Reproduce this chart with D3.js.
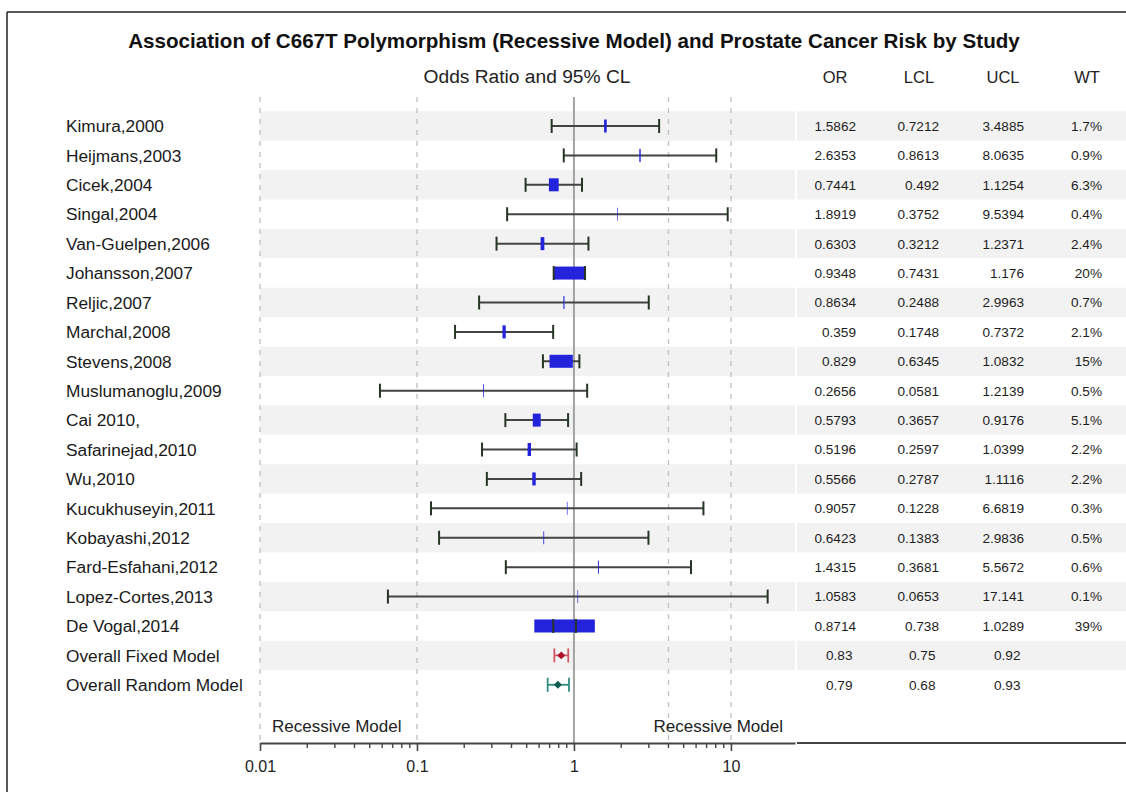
<!DOCTYPE html>
<html>
<head>
<meta charset="utf-8">
<script src="https://cdn.jsdelivr.net/npm/d3@7"></script>
<style>
  html, body { margin: 0; padding: 0; background: #fff; }
  svg { display: block; font-family: "Liberation Sans", Arial, sans-serif; }
</style>
</head>
<body>
<svg id="chart" width="1126" height="798"></svg>
<script>
// ---------- data ----------
const studies = ["Kimura,2000","Heijmans,2003","Cicek,2004","Singal,2004","Van-Guelpen,2006",
  "Johansson,2007","Reljic,2007","Marchal,2008","Stevens,2008","Muslumanoglu,2009",
  "Cai 2010,","Safarinejad,2010","Wu,2010","Kucukhuseyin,2011","Kobayashi,2012",
  "Fard-Esfahani,2012","Lopez-Cortes,2013","De Vogal,2014"];
const orVals  = [1.5862,2.6353,0.7441,1.8919,0.6303,0.9348,0.8634,0.359,0.829,0.2656,0.5793,0.5196,0.5566,0.9057,0.6423,1.4315,1.0583,0.8714];
const lclVals = [0.7212,0.8613,0.492,0.3752,0.3212,0.7431,0.2488,0.1748,0.6345,0.0581,0.3657,0.2597,0.2787,0.1228,0.1383,0.3681,0.0653,0.738];
const uclVals = [3.4885,8.0635,1.1254,9.5394,1.2371,1.176,2.9963,0.7372,1.0832,1.2139,0.9176,1.0399,1.1116,6.6819,2.9836,5.5672,17.141,1.0289];
const wtVals  = [1.7,0.9,6.3,0.4,2.4,20,0.7,2.1,15,0.5,5.1,2.2,2.2,0.3,0.5,0.6,0.1,39];

const overallLabels = ["Overall Fixed Model","Overall Random Model"];
const overallOR  = [0.83, 0.79];
const overallLCL = [0.75, 0.68];
const overallUCL = [0.92, 0.93];

const columnHeaders = ["OR","LCL","UCL","WT"];
const tickValues = [0.01, 0.1, 1, 10];
const refLines = [0.01, 0.1, 4, 10];
const title = "Association of C667T Polymorphism (Recessive Model) and Prostate Cancer Risk by Study";
const subTitle = "Odds Ratio and 95% CL";
const sideLabel = "Recessive Model";

// ---------- layout ----------
const svg = d3.select("#chart");
const allLabels = studies.concat(overallLabels);

const x = d3.scaleLog().domain([0.01, 25.6]).range([260, 795]);
const y = d3.scaleBand().domain(allLabels).range([111.3, 699.5]).padding(0);
const yc = d => y(d) + y.bandwidth() / 2;
const plotTop = 97, axisY = 743;
const tableLeft = 797, tableRight = 1126;
const colCenter = [835, 919, 1003, 1087];
const colRight  = [856, 939, 1024, 1102];
const boxScale = d3.scaleLinear().domain([0, 39]).range([0, 60.5]);

const studyRows = studies.map((s, i) => ({label: s, or: orVals[i], lcl: lclVals[i], ucl: uclVals[i], wt: wtVals[i]}));
const overallRows = overallLabels.map((s, i) => ({label: s, or: overallOR[i], lcl: overallLCL[i], ucl: overallUCL[i]}));

// frame
svg.append("line").attr("x1", 7).attr("x2", 1126).attr("y1", 12).attr("y2", 12).attr("stroke", "#222").attr("stroke-width", 1.5);
svg.append("line").attr("x1", 7).attr("x2", 7).attr("y1", 12).attr("y2", 792).attr("stroke", "#222").attr("stroke-width", 1.5);

// bands
const bandRows = allLabels.filter((d, i) => i % 2 === 0);
svg.append("g").selectAll("rect").data(bandRows).join("rect")
  .attr("x", x(0.01)).attr("width", x.range()[1] - x(0.01))
  .attr("y", d => y(d)).attr("height", y.bandwidth()).attr("fill", "#f2f2f2");
svg.append("g").selectAll("rect").data(bandRows).join("rect")
  .attr("x", tableLeft).attr("width", tableRight - tableLeft)
  .attr("y", d => y(d)).attr("height", y.bandwidth()).attr("fill", "#f2f2f2");

// reference lines
svg.append("g").selectAll("line").data(refLines).join("line")
  .attr("x1", d => x(d)).attr("x2", d => x(d)).attr("y1", plotTop).attr("y2", axisY)
  .attr("stroke", "#c4c4c4").attr("stroke-width", 1.4).attr("stroke-dasharray", "5,6");
svg.append("line").attr("x1", x(1)).attr("x2", x(1)).attr("y1", plotTop).attr("y2", axisY)
  .attr("stroke", "#a3a3a3").attr("stroke-width", 2);

// title & headers
svg.append("text").attr("x", 574).attr("y", 48).attr("text-anchor", "middle")
  .attr("font-size", 20.6).attr("font-weight", "bold").attr("fill", "#111").text(title);
svg.append("text").attr("x", 527).attr("y", 83).attr("text-anchor", "middle")
  .attr("font-size", 19.2).attr("fill", "#222").text(subTitle);
svg.append("g").selectAll("text").data(columnHeaders).join("text")
  .attr("x", (d, i) => colCenter[i]).attr("y", 83).attr("text-anchor", "middle")
  .attr("font-size", 16.5).attr("fill", "#222").text(d => d);

// row labels
svg.append("g").selectAll("text").data(allLabels).join("text")
  .attr("x", 66).attr("y", d => yc(d)).attr("dy", "0.36em")
  .attr("font-size", 17.3).attr("fill", "#1a1a1a").text(d => d);

// study error bars
const g = svg.append("g");
g.selectAll("line.ci").data(studyRows).join("line").attr("class", "ci")
  .attr("x1", d => x(d.lcl)).attr("x2", d => x(d.ucl))
  .attr("y1", d => yc(d.label)).attr("y2", d => yc(d.label))
  .attr("stroke", "#404540").attr("stroke-width", 2);
g.selectAll("rect.box").data(studyRows).join("rect").attr("class", "box")
  .attr("x", d => x(d.or) - Math.max(boxScale(d.wt), 0.6) / 2)
  .attr("width", d => Math.max(boxScale(d.wt), 0.6))
  .attr("y", d => yc(d.label) - 6.5).attr("height", 13)
  .attr("fill", "#2323dc");
const capData = studyRows.flatMap(d => [{label: d.label, v: d.lcl}, {label: d.label, v: d.ucl}]);
g.selectAll("line.cap").data(capData).join("line").attr("class", "cap")
  .attr("x1", d => x(d.v)).attr("x2", d => x(d.v))
  .attr("y1", d => yc(d.label) - 7).attr("y2", d => yc(d.label) + 7)
  .attr("stroke", "#263526").attr("stroke-width", 2);

// overall rows
const ovColors = [{line: "#d0566a", mark: "#b0102e"}, {line: "#2e8c80", mark: "#0d5a4f"}];
overallRows.forEach((d, i) => {
  const cy = yc(d.label);
  const og = svg.append("g");
  og.append("line").attr("x1", x(d.lcl)).attr("x2", x(d.ucl)).attr("y1", cy).attr("y2", cy)
    .attr("stroke", ovColors[i].line).attr("stroke-width", 1.8);
  [d.lcl, d.ucl].forEach(v => og.append("line").attr("x1", x(v)).attr("x2", x(v))
    .attr("y1", cy - 7).attr("y2", cy + 7).attr("stroke", ovColors[i].line).attr("stroke-width", 1.8));
  og.append("path").attr("d", d3.symbol(d3.symbolDiamond2, 40)())
    .attr("transform", `translate(${x(d.or)},${cy})`).attr("fill", ovColors[i].mark);
});

// table values
const tg = svg.append("g").attr("font-size", 13.6).attr("fill", "#1e1e1e");
studyRows.forEach(d => {
  const vals = [String(d.or), String(d.lcl), String(d.ucl), d.wt + "%"];
  vals.forEach((v, j) => tg.append("text").attr("x", colRight[j]).attr("y", yc(d.label)).attr("dy", "0.36em")
    .attr("text-anchor", "end").text(v));
});
overallRows.forEach(d => {
  [d.or, d.lcl, d.ucl].forEach((v, j) => tg.append("text").attr("x", colRight[j] - 3.5).attr("y", yc(d.label)).attr("dy", "0.36em")
    .attr("text-anchor", "end").text(String(v)));
});

// side labels
svg.append("text").attr("x", 272).attr("y", 732).attr("font-size", 17).attr("fill", "#222").text(sideLabel);
svg.append("text").attr("x", 783).attr("y", 732).attr("text-anchor", "end").attr("font-size", 17).attr("fill", "#222").text(sideLabel);

// axis
const minorTicks = d3.range(-2, 1).flatMap(e => d3.range(2, 10).map(m => m * Math.pow(10, e)));
const axis = d3.axisBottom(x).tickValues(tickValues).tickFormat(d => String(d)).tickSize(8).tickSizeOuter(0);
const ax = svg.append("g").attr("transform", `translate(0,${axisY})`).call(axis);
ax.select(".domain").attr("stroke", "#444").attr("stroke-width", 2.2);
ax.selectAll(".tick line").attr("stroke", "#444").attr("stroke-width", 1.6);
ax.selectAll(".tick text").attr("font-size", 16).attr("fill", "#222").attr("font-family", "Liberation Sans, Arial, sans-serif").attr("dy", "1.15em");
ax.selectAll("line.minor").data(minorTicks).join("line").attr("class", "minor")
  .attr("x1", d => x(d)).attr("x2", d => x(d)).attr("y1", 0).attr("y2", 5)
  .attr("stroke", "#444").attr("stroke-width", 1.4);
svg.append("line").attr("x1", tableLeft).attr("x2", tableRight).attr("y1", axisY).attr("y2", axisY)
  .attr("stroke", "#444").attr("stroke-width", 2.2);
</script>
</body>
</html>
